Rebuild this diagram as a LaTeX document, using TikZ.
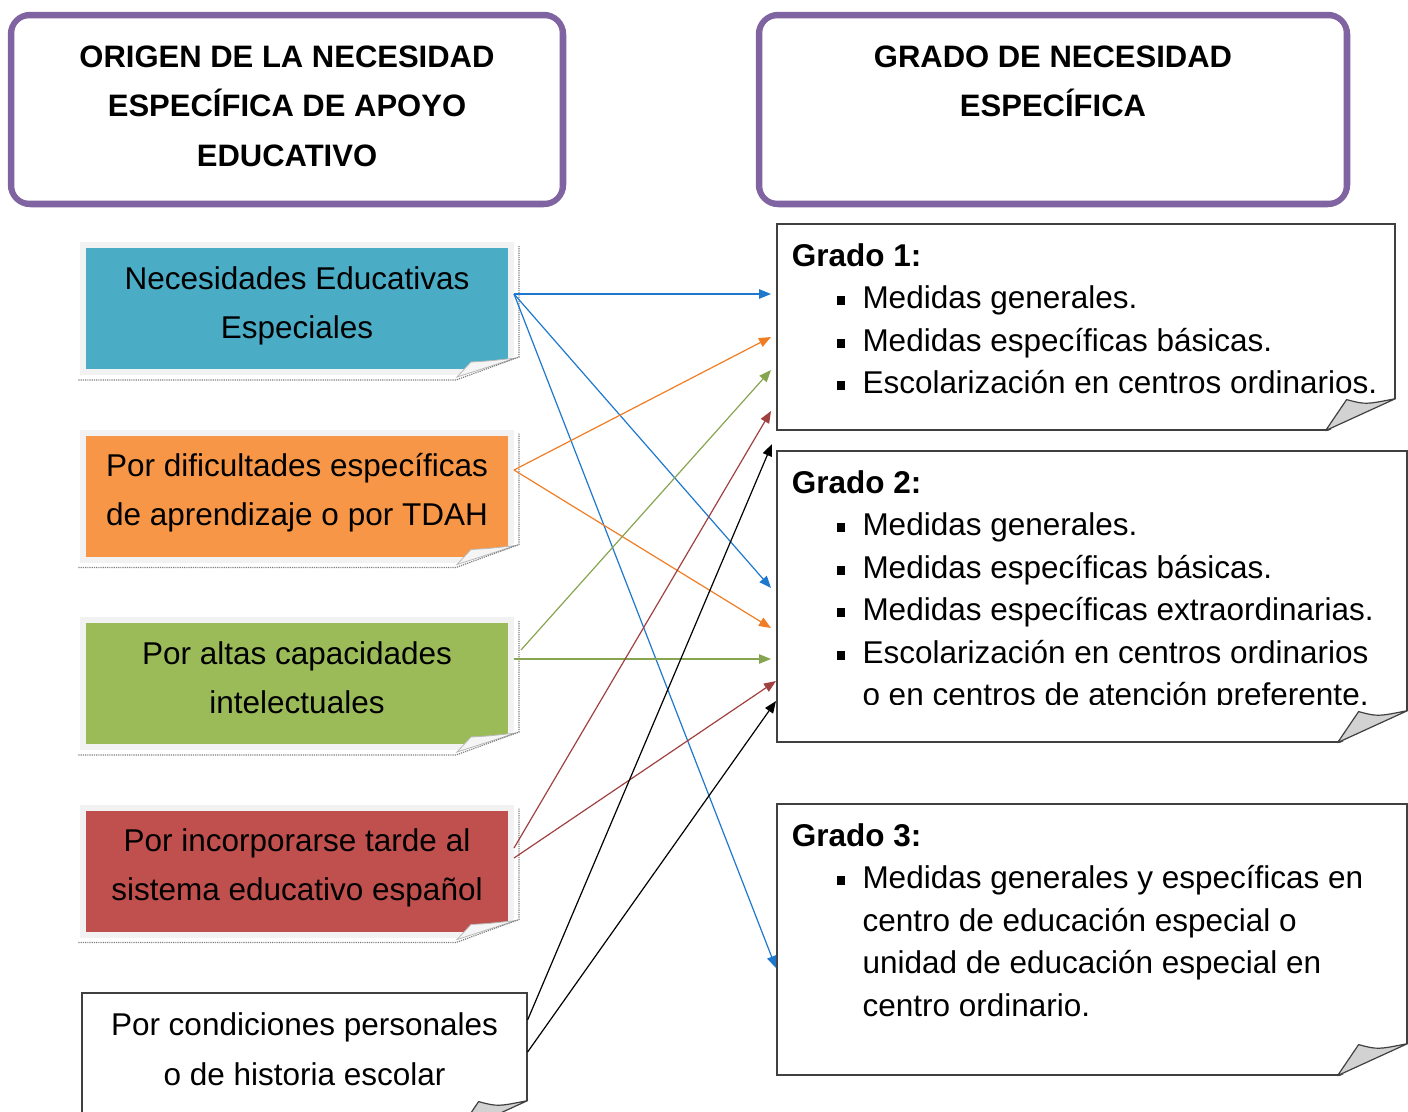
\documentclass[tikz,border=0pt]{standalone}
\usepackage{fontspec}
\setmainfont{Liberation Sans}
\usetikzlibrary{calc,arrows.meta}

\definecolor{hdrpurple}{RGB}{128,100,162}
\definecolor{neefill}{RGB}{75,172,198}
\definecolor{deafill}{RGB}{247,150,70}
\definecolor{altasfill}{RGB}{155,187,89}
\definecolor{tardefill}{RGB}{192,80,77}
\definecolor{neeline}{RGB}{30,120,205}
\definecolor{dealine}{RGB}{240,125,35}
\definecolor{altasline}{RGB}{135,165,80}
\definecolor{tardeline}{RGB}{160,65,65}

\def\hs{\rule[-17.75pt]{0pt}{49.5pt}}
\def\ls{\rule[-19.5pt]{0pt}{49pt}}
\def\lsb{\rule[-26.5pt]{0pt}{49pt}}
\def\rs{\rule[-12.75pt]{0pt}{42.5pt}}
\def\bitem{\hspace*{45pt}\rule[3.5pt]{8.5pt}{9pt}\hspace*{17.2pt}}
\def\bcont{\hspace*{70.7pt}}
\def\pagecurl#1{
	\fill[white] ($(#1.south east)+(-60,4)$) -- ($(#1.south east)+(4,-20)$) -- ($(#1.south east)+(4,4)$) -- cycle;
	\filldraw[fill=gray!8, draw=gray!55, line width=0.8pt] ($(#1.south east)+(-57,2)$) -- ($(#1.south east)+(-43,-13)$) .. controls ($(#1.south east)+(-25,-14)$) .. ($(#1.south east)+(2,-17)$) -- cycle;
	\draw[gray, densely dotted, line width=1.2pt] ($(#1.north east)+(5,4)$) -- ($(#1.south east)+(5,-18)$) -- ($(#1.south east)+(-58,5)$) -- ($(#1.south west)+(-2,5)$);}
\def\foldcorner#1{
	\fill[white] ($(#1.south east)+(-71,2)$) -- ($(#1.south east)+(2,-33)$) -- ($(#1.south east)+(2,2)$) -- cycle;
	\filldraw[fill=gray!35, draw=black!75, line width=1.2pt, line join=round] ($(#1.south east)+(-70,0)$) -- ($(#1.south east)+(-49,-31)$) .. controls ($(#1.south east)+(-30,-26)$) .. ($(#1.south east)+(0,-32)$) -- cycle;}

\tikzset{
	hdrbox/.style={draw=hdrpurple, line width=5.5pt, rounded corners=20pt, fill=white, minimum height=190pt, align=center, inner sep=0pt, font=\bfseries\fontsize{31}{49.5}\selectfont},
	srcbox/.style={draw=gray!10, line width=6pt, minimum width=428pt, minimum height=127pt, align=center, inner sep=0pt, font=\fontsize{31.5}{49}\selectfont},
	gradobox/.style={draw=black!75, line width=1.2pt, fill=white, inner sep=0pt},
	gradotxt/.style={anchor=north west, align=left, inner sep=0pt, font=\fontsize{31.5}{42.5}\selectfont},
	conn/.style={-{Triangle[length=12pt,width=9.5pt]}, line width=1.2pt}
}

\begin{document}
\begin{tikzpicture}[x=1pt, y=-1pt]
		%%%%% START %%%%%
		\useasboundingbox (0,0) rectangle (1408,1111);
		\clip (0,0) rectangle (1408,1111);
		
		\node[hdrbox, minimum width=553pt] (origen) at (287,109.5) {ORIGEN DE LA NECESIDAD\hs\\ESPECÍFICA DE APOYO\hs\\EDUCATIVO\hs};
		\draw[hdrpurple, line width=1.2pt, rounded corners=15pt] ([shift={(6,6)}]origen.north west) rectangle ([shift={(-6,-6)}]origen.south east);
		\node[hdrbox, minimum width=589pt] (grado) at (1053,109.5) {GRADO DE NECESIDAD\hs\\ESPECÍFICA\hs\\\hs};
		\draw[hdrpurple, line width=1.2pt, rounded corners=15pt] ([shift={(6,6)}]grado.north west) rectangle ([shift={(-6,-6)}]grado.south east);
		
		\node[srcbox, fill=neefill] (nee) at (297,308.5) {\ls Necesidades Educativas\\\ls Especiales};
		\pagecurl{nee}
		\node[srcbox, fill=deafill] (dea) at (297,496) {\ls Por dificultades específicas\\\ls de aprendizaje o por TDAH};
		\pagecurl{dea}
		\node[srcbox, fill=altasfill] (altas) at (297,683.5) {\ls Por altas capacidades\\\ls intelectuales};
		\pagecurl{altas}
		\node[srcbox, fill=tardefill] (tarde) at (297,871) {\ls Por incorporarse tarde al\\\ls sistema educativo español};
		\pagecurl{tarde}
		\node[gradobox, minimum width=445pt, minimum height=139pt, align=center, font=\fontsize{31.5}{49}\selectfont] (cond) at (304.5,1062.5) {\lsb Por condiciones personales\\\lsb o de historia escolar};
		\foldcorner{cond}
		
		\node[gradobox, minimum width=618pt, minimum height=206pt] (g1) at (1086,327) {};
		\foldcorner{g1}
		\node[gradotxt] (g1txt) at (791.6,236.25) {\textbf{Grado 1:}\rs\\
			\bitem Medidas generales.\\
			\bitem Medidas específicas básicas.\\
			\bitem Escolarización en centros ordinarios.};
		
		\node[gradobox, minimum width=630pt, minimum height=291pt] (g2) at (1092,596.5) {};
		\foldcorner{g2}
		\begin{scope}
			\clip (700,440) rectangle (1407,704);
			\node[gradotxt] (g2txt) at (791.6,463.25) {\textbf{Grado 2:}\rs\\
				\bitem Medidas generales.\\
				\bitem Medidas específicas básicas.\\
				\bitem Medidas específicas extraordinarias.\\
				\bitem Escolarización en centros ordinarios\\
				\bcont o en centros de atención preferente.};
		\end{scope}
		
		\node[gradobox, minimum width=630pt, minimum height=271pt] (g3) at (1092,939.5) {};
		\foldcorner{g3}
		\node[gradotxt] (g3txt) at (791.6,816.25) {\textbf{Grado 3:}\rs\\
			\bitem Medidas generales y específicas en\\
			\bcont centro de educación especial o\\
			\bcont unidad de educación especial en\\
			\bcont centro ordinario.};
		
		\coordinate (g1nee) at (771,294);
		\coordinate (g1dea) at (771,337);
		\coordinate (g1altas) at (771,370);
		\coordinate (g1tarde) at (771,411);
		\coordinate (g1cond) at (772,444);
		\coordinate (g2nee) at (771,588);
		\coordinate (g2dea) at (771,628);
		\coordinate (g2altas) at (771,659);
		\coordinate (g2tarde) at (776,681);
		\coordinate (g2cond) at (776,701);
		\coordinate (g3nee) at (776,968);
		
		\draw[conn, neeline] ([yshift=14.5pt]nee.east) -- (g1nee);
		\draw[conn, neeline] ([yshift=14.5pt]nee.east) -- (g2nee);
		\draw[conn, neeline] ([yshift=14.5pt]nee.east) -- (g3nee);
		\draw[conn, dealine] ([yshift=26pt]dea.east) -- (g1dea);
		\draw[conn, dealine] ([yshift=26pt]dea.east) -- (g2dea);
		\draw[conn, altasline] ([xshift=7pt,yshift=33.5pt]altas.east) -- (g1altas);
		\draw[conn, altasline] ([yshift=24.5pt]altas.east) -- (g2altas);
		\draw[conn, tardeline] ([yshift=23pt]tarde.east) -- (g1tarde);
		\draw[conn, tardeline] ([yshift=13pt]tarde.east) -- (g2tarde);
		\draw[conn] ([yshift=42.5pt]cond.east) -- (g1cond);
		\draw[conn] ([yshift=10.5pt]cond.east) -- (g2cond);
		
		%%%%% END %%%%%
\end{tikzpicture}
\end{document}
